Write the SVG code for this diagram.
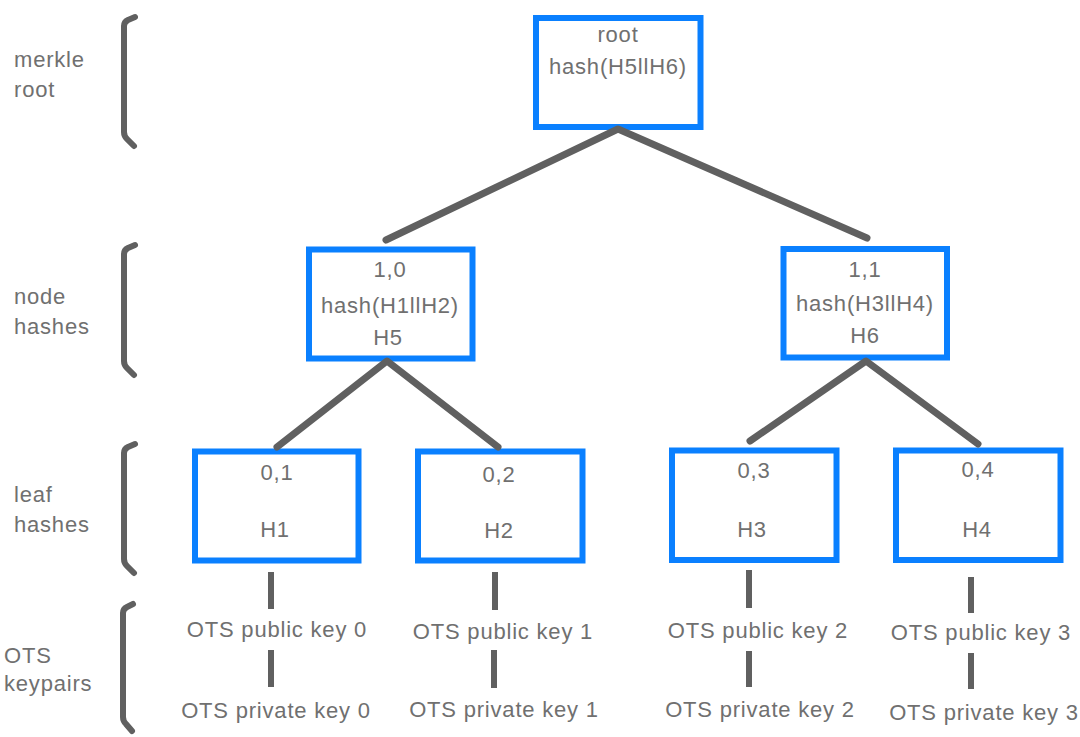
<svg xmlns="http://www.w3.org/2000/svg" width="1080" height="737" viewBox="0 0 1080 737">
<style>
  .box{fill:#ffffff;stroke:#0a80ff;stroke-width:6}
  .t{font-family:"Liberation Sans",Arial,Helvetica,sans-serif;font-size:22px;fill:#707070;letter-spacing:0.8px}
  .c{text-anchor:middle}
  .edge{fill:none;stroke:#606060;stroke-width:7;stroke-linecap:round;stroke-linejoin:round}
  .key{fill:none;stroke:#606060;stroke-width:6;stroke-linecap:butt}
  .br{fill:none;stroke:#606060;stroke-width:6;stroke-linecap:round;stroke-linejoin:round}
</style>
<rect width="1080" height="737" fill="#ffffff"/>
<g id="levels">
  <g id="level-merkle-root">
    <text class="t" x="14" y="67">merkle</text>
    <text class="t" x="14" y="97">root</text>
    <path class="br" d="M135,17 L128,20 Q124,22 124,26 L124,132 Q124,136 127,139 L134,146"/>
  </g>
  <g id="level-node-hashes">
    <text class="t" x="14" y="304">node</text>
    <text class="t" x="14" y="334">hashes</text>
    <path class="br" d="M135,245 L128,248 Q124,250 124,254 L124,361 Q124,365 127,368 L134,375"/>
  </g>
  <g id="level-leaf-hashes">
    <text class="t" x="14" y="502">leaf</text>
    <text class="t" x="14" y="532">hashes</text>
    <path class="br" d="M135,444 L128,447 Q124,449 124,453 L124,559 Q124,563 127,566 L134,573"/>
  </g>
  <g id="level-ots-keypairs">
    <text class="t" x="4" y="663">OTS</text>
    <text class="t" x="4" y="691">keypairs</text>
    <path class="br" d="M133,604 L127,607 Q123,609 123,613 L123,717 Q123,721 126,724 L132,731"/>
  </g>
</g>
<g id="root">
  <rect class="box" x="536" y="18" width="164.5" height="109"/>
  <text class="t c" x="618" y="42">root</text>
  <text class="t c" x="618" y="74">hash(H5llH6)</text>
</g>
<g id="node-1-0">
  <rect class="box" x="309" y="249.5" width="163.5" height="109"/>
  <text class="t c" x="390" y="277">1,0</text>
  <text class="t c" x="390" y="313">hash(H1llH2)</text>
  <text class="t c" x="388" y="345">H5</text>
</g>
<g id="node-1-1">
  <rect class="box" x="783.5" y="249" width="163.5" height="108.5"/>
  <text class="t c" x="865" y="277">1,1</text>
  <text class="t c" x="865" y="311">hash(H3llH4)</text>
  <text class="t c" x="865" y="343">H6</text>
</g>
<g id="leaf-0-1">
  <rect class="box" x="195" y="451.5" width="163.5" height="109"/>
  <text class="t c" x="277" y="480">0,1</text>
  <text class="t c" x="275" y="537">H1</text>
</g>
<g id="leaf-0-2">
  <rect class="box" x="418" y="451.5" width="164.5" height="109"/>
  <text class="t c" x="499" y="482">0,2</text>
  <text class="t c" x="499" y="538">H2</text>
</g>
<g id="leaf-0-3">
  <rect class="box" x="672" y="450.5" width="164.5" height="109.5"/>
  <text class="t c" x="754" y="478">0,3</text>
  <text class="t c" x="752" y="537">H3</text>
</g>
<g id="leaf-0-4">
  <rect class="box" x="896" y="450.5" width="164.5" height="109.5"/>
  <text class="t c" x="978" y="477">0,4</text>
  <text class="t c" x="977" y="537">H4</text>
</g>
<g id="keys-0">
  <text class="t c" x="277" y="637">OTS public key 0</text>
  <text class="t c" x="276" y="718">OTS private key 0</text>
</g>
<g id="keys-1">
  <text class="t c" x="503" y="639">OTS public key 1</text>
  <text class="t c" x="504" y="717">OTS private key 1</text>
</g>
<g id="keys-2">
  <text class="t c" x="758" y="638">OTS public key 2</text>
  <text class="t c" x="760" y="717">OTS private key 2</text>
</g>
<g id="keys-3">
  <text class="t c" x="981" y="640">OTS public key 3</text>
  <text class="t c" x="984" y="720">OTS private key 3</text>
</g>
<g id="connectors">
  <polyline class="edge" points="386,240 618,129 867,238"/>
  <polyline class="edge" points="277,447 387,361 498,447"/>
  <polyline class="edge" points="750,441 866,361 978,444"/>
  <line class="key" x1="271" y1="572" x2="271" y2="609"/>
  <line class="key" x1="271" y1="650" x2="271" y2="687"/>
  <line class="key" x1="495" y1="572" x2="495" y2="610"/>
  <line class="key" x1="494" y1="650" x2="494" y2="688"/>
  <line class="key" x1="749" y1="570" x2="749" y2="608"/>
  <line class="key" x1="749" y1="651" x2="749" y2="687"/>
  <line class="key" x1="971" y1="577" x2="971" y2="613"/>
  <line class="key" x1="971" y1="653" x2="971" y2="689"/>
</g>
</svg>
